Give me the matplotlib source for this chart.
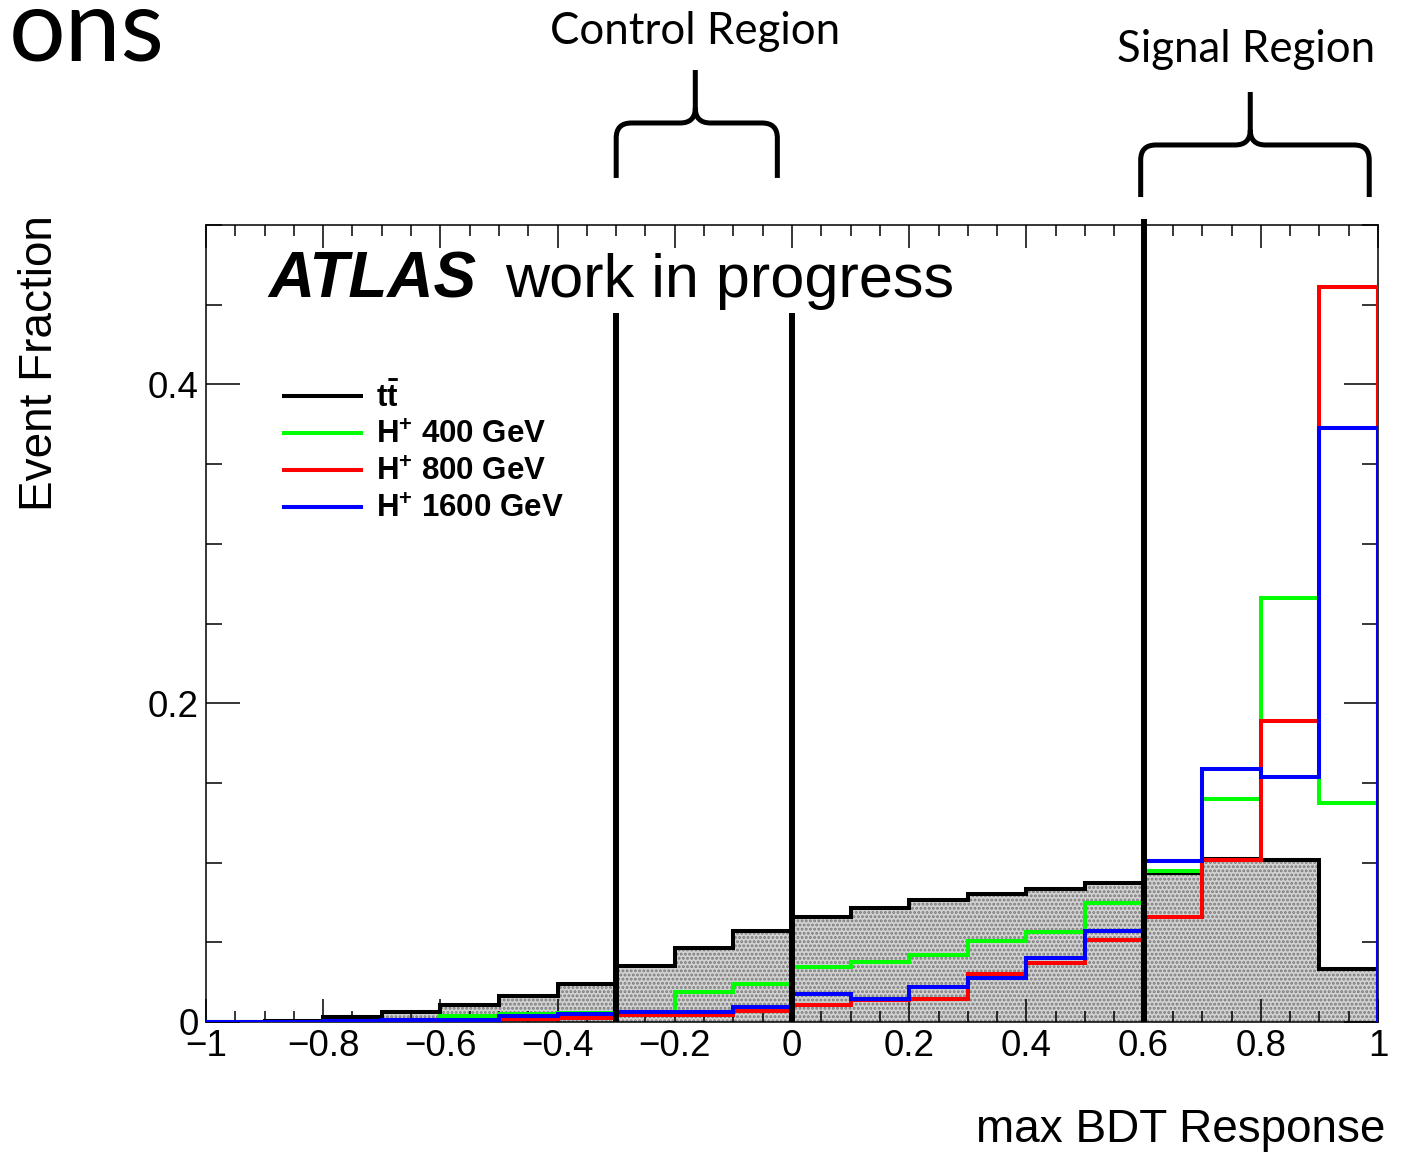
import numpy as np
import matplotlib
matplotlib.use('Agg')
import matplotlib.pyplot as plt
import matplotlib.transforms as mtransforms
from matplotlib.path import Path
from matplotlib.patches import PathPatch
from matplotlib.lines import Line2D
from matplotlib.ticker import MultipleLocator, FuncFormatter

plt.rcParams['font.family'] = 'Liberation Sans'
plt.rcParams['mathtext.fontset'] = 'custom'
plt.rcParams['mathtext.rm'] = 'Liberation Sans'
plt.rcParams['mathtext.bf'] = 'Liberation Sans:bold'
plt.rcParams['hatch.linewidth'] = 1.4

# 20 bins of max BDT response, normalised to unit area
bin_edges = np.round(np.linspace(-1, 1, 21), 2)
ttbar = [0.0, 0.0003, 0.0033, 0.0060, 0.0107, 0.0163, 0.0239, 0.0352, 0.0463, 0.0573,
         0.0661, 0.0718, 0.0766, 0.0804, 0.0833, 0.0875, 0.0934, 0.1022, 0.1017, 0.0331]
hplus_400 = [0.0, 0.0, 0.0005, 0.0015, 0.0040, 0.0048, 0.0056, 0.0059, 0.0190, 0.0237,
             0.0347, 0.0379, 0.0421, 0.0509, 0.0567, 0.0749, 0.0950, 0.1398, 0.2660, 0.1373]
hplus_800 = [0.0, 0.0, 0.0003, 0.0010, 0.0013, 0.0020, 0.0023, 0.0044, 0.0044, 0.0069,
             0.0105, 0.0135, 0.0144, 0.0299, 0.0369, 0.0515, 0.0657, 0.1017, 0.1890, 0.4613]
hplus_1600 = [0.0, 0.0, 0.0005, 0.0013, 0.0013, 0.0040, 0.0050, 0.0065, 0.0065, 0.0096,
              0.0174, 0.0144, 0.0222, 0.0274, 0.0400, 0.0573, 0.1011, 0.1587, 0.1540, 0.3728]

signal_names = [r'$\mathbf{H^{+}}$ 400 GeV', r'$\mathbf{H^{+}}$ 800 GeV', r'$\mathbf{H^{+}}$ 1600 GeV']
signal_colors = ['#00ff00', '#ff0000', '#0000ff']
bkg_name = r'$\mathbf{t\bar{t}}$'

# region boundaries (BDT cut values), brace spans and brace tips
cut_values = [-0.3, 0.0, 0.6]
control_span = (-0.3, -0.025, -0.165)
signal_span = (0.595, 0.985, 0.782)

fig = plt.figure(figsize=(14.06, 11.57), dpi=100)
ax = fig.add_axes([0.1465, 0.1167, 0.8336, 0.6888])

ax.stairs(ttbar, bin_edges, fill=True, facecolor='#d2d2d2', edgecolor='#7a7a7a',
          hatch='....', linewidth=0, zorder=1)
ax.stairs(ttbar, bin_edges, color='black', linewidth=2.9, zorder=2)
for vals, col in zip([hplus_400, hplus_800, hplus_1600], signal_colors):
    ax.stairs(vals, bin_edges, color=col, linewidth=2.9, zorder=3)

# cut lines
ax.vlines(cut_values[:2], 0, 0.445, color='black', linewidth=4.3, zorder=5)
ax.vlines(cut_values[2], 0, 0.5035, color='black', linewidth=4.3, zorder=5, clip_on=False)

ax.set_xlim(-1, 1)
ax.set_ylim(0, 0.5)


def root_fmt(v, pos):
    s = '%g' % round(v, 3)
    if s == '-0':
        s = '0'
    return s.replace('-', '\u2212')


ax.xaxis.set_major_locator(MultipleLocator(0.2))
ax.xaxis.set_minor_locator(MultipleLocator(0.05))
ax.yaxis.set_major_locator(MultipleLocator(0.2))
ax.yaxis.set_minor_locator(MultipleLocator(0.05))
ax.xaxis.set_major_formatter(FuncFormatter(root_fmt))
ax.yaxis.set_major_formatter(FuncFormatter(root_fmt))
ax.tick_params(which='both', direction='in', top=True, right=True, width=1.1, colors='black')
ax.tick_params(axis='x', which='major', length=16.5, labelsize=26.5, pad=5)
ax.tick_params(axis='x', which='minor', length=8)
ax.tick_params(axis='y', which='major', length=24.5, labelsize=26.5, pad=5)
ax.tick_params(axis='y', which='minor', length=11.5)
for sp in ax.spines.values():
    sp.set_linewidth(1.1)

ax.set_xlabel('max BDT Response', fontsize=33, loc='right')
ax.xaxis.set_label_coords(1.006, -0.108)
ax.set_ylabel('Event Fraction', fontsize=33, loc='top')
ax.yaxis.set_label_coords(-0.123, 1.013)

ax.text(0.0529, 0.9097, 'ATLAS', transform=ax.transAxes, fontsize=46,
        fontweight='bold', fontstyle='italic', va='baseline')
ax.text(0.2551, 0.9097, 'work in progress', transform=ax.transAxes, fontsize=44,
        va='baseline')

handles = [Line2D([], [], color='black', linewidth=2.9)]
handles += [Line2D([], [], color=c, linewidth=2.9) for c in signal_colors]
ax.legend(handles, [bkg_name] + signal_names, loc='upper left',
          bbox_to_anchor=(0.0666, 0.803), frameon=False,
          prop={'family': 'Liberation Sans', 'weight': 'bold', 'size': 22.5},
          handlelength=2.45, handletextpad=0.5, labelspacing=0.22,
          borderpad=0, borderaxespad=0)

brace_trans = mtransforms.blended_transform_factory(ax.transData, fig.transFigure)


def draw_brace(x0, x1, xm, y_foot, y_bar, y_tip, rx=0.026, ry=0.013):
    # curly brace: x in data units of ax, y in figure fraction
    verts = [(x0, y_foot), (x0, y_bar - ry), (x0, y_bar), (x0 + rx, y_bar),
             (xm - rx, y_bar), (xm, y_bar), (xm, y_bar + ry), (xm, y_tip),
             (xm, y_bar + ry), (xm, y_bar), (xm + rx, y_bar),
             (x1 - rx, y_bar), (x1, y_bar), (x1, y_bar - ry), (x1, y_foot)]
    codes = [Path.MOVETO, Path.LINETO, Path.CURVE3, Path.CURVE3,
             Path.LINETO, Path.CURVE3, Path.CURVE3, Path.LINETO,
             Path.MOVETO, Path.CURVE3, Path.CURVE3,
             Path.LINETO, Path.CURVE3, Path.CURVE3, Path.LINETO]
    patch = PathPatch(Path(verts, codes), transform=brace_trans, facecolor='none',
                      edgecolor='black', linewidth=3.6, clip_on=False, zorder=6)
    fig.add_artist(patch)


draw_brace(*control_span, 0.8462, 0.8937, 0.9395)
fig.text(control_span[2], 0.962, 'Control Region', family='Lato', fontsize=31.5,
         ha='center', va='baseline', transform=brace_trans)
draw_brace(*signal_span, 0.8297, 0.8747, 0.9205)
fig.text(signal_span[2] - 0.007, 0.946, 'Signal Region', family='Lato', fontsize=31.5,
         ha='center', va='baseline', transform=brace_trans)

fig.text(0.006, 0.948, 'ons', family='Lato', fontsize=72, va='baseline')

fig.savefig('out.png', dpi=100, facecolor='white')
